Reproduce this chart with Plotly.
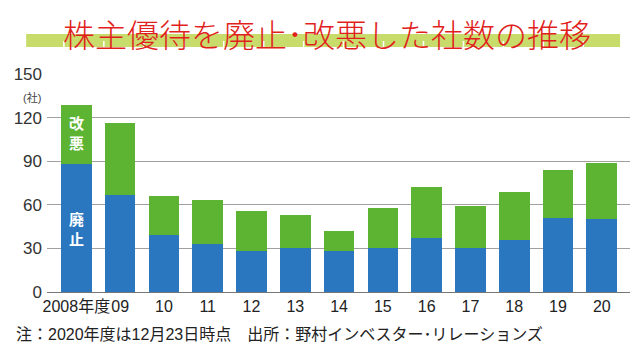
import plotly.graph_objects as go

# ---- data ----
years = ["2008年度", "09", "10", "11", "12", "13", "14", "15", "16", "17", "18", "19", "20"]
abolished = [88, 67, 39, 33, 28, 30, 28, 30, 37, 30, 36, 51, 50]     # 廃止
worsened = [41, 49, 27, 30, 28, 23, 14, 28, 35, 29, 33, 33, 39]      # 改悪
y_ticks = [0, 30, 60, 90, 120, 150]

title_text = "株主優待を廃止･改悪した社数の推移"
note_text = "注：2020年度は12月23日時点　出所：野村インベスター･リレーションズ"

BLUE = "#2a77c0"
GREEN = "#5cb432"
FONT = "Liberation Sans, Noto Sans CJK JP, sans-serif"

# page body has an 8px default margin, so the figure is sized/offset to fit the 638x355 window
OFF = 8
W, H = 638 - OFF, 355 - OFF
L, R, T, B = 43 - OFF, 6, 74 - OFF, 63
PW, PH = W - L - R, H - T - B


def px(x):
    """page pixel x -> paper coordinate"""
    return (x - OFF - L) / PW


def py(y):
    """page pixel y -> paper coordinate"""
    return (H - B - (y - OFF)) / PH


fig = go.Figure()
fig.add_trace(go.Bar(x=years, y=abolished, name="廃止", marker=dict(color=BLUE, line=dict(width=0)), width=0.7))
fig.add_trace(go.Bar(x=years, y=worsened, name="改悪", marker=dict(color=GREEN, line=dict(width=0)), width=0.7))

shapes = []
# title band
shapes.append(dict(type="rect", xref="paper", yref="paper", x0=px(22), x1=px(620), y0=py(47), y1=py(34),
                   fillcolor="#c8dc6c", line=dict(width=0), layer="above"))
for k in range(14):
    xx = 60 + k * 40.23
    shapes.append(dict(type="line", xref="paper", yref="paper", x0=px(xx), x1=px(xx), y0=py(47), y1=py(41),
                       line=dict(color="white", width=1.5), layer="above"))

annotations = [
    dict(text=title_text, xref="paper", yref="paper", x=px(325), y=py(8.5), xanchor="center", yanchor="top",
         showarrow=False, borderpad=0,
         font=dict(family="Noto Sans CJK JP", size=32, color="#e11f1c", weight=300)),
    dict(text="(社)", xref="paper", yref="paper", x=px(28), y=py(97), xanchor="center", yanchor="middle",
         showarrow=False, font=dict(family=FONT, size=11, color="#444")),
    dict(text="改<br>悪", x=years[0], y=abolished[0] + worsened[0] / 2 + 1, xref="x", yref="y",
         showarrow=False, font=dict(family="Noto Sans CJK JP", size=15, color="white", weight="bold"),
         yanchor="middle"),
    dict(text="廃<br>止", x=years[0], y=44, xref="x", yref="y",
         showarrow=False, font=dict(family="Noto Sans CJK JP", size=15, color="white", weight="bold"),
         yanchor="middle"),
    dict(text=note_text, xref="paper", yref="paper", x=px(10), y=py(334), xanchor="left", yanchor="middle",
         showarrow=False, font=dict(family=FONT, size=16, color="#222")),
]

fig.update_layout(
    width=W, height=H,
    margin=dict(l=L, r=R, t=T, b=B, pad=0),
    barmode="stack",
    showlegend=False,
    plot_bgcolor="white", paper_bgcolor="white",
    font=dict(family=FONT, color="#333"),
    shapes=shapes,
    annotations=annotations,
    xaxis=dict(type="category", range=[-0.67, 12.69], showgrid=False, showline=True, linecolor="#777",
               linewidth=1, ticks="", tickangle=0, tickfont=dict(size=16, color="#222"), fixedrange=True),
    yaxis=dict(range=[0, 150], tickvals=y_ticks, showgrid=True, gridcolor="#a0a0a0", gridwidth=1,
               zeroline=False, showline=False, ticks="", ticklabelstandoff=4,
               tickfont=dict(size=17, color="#333"), fixedrange=True),
)

fig.write_html("out.html")
